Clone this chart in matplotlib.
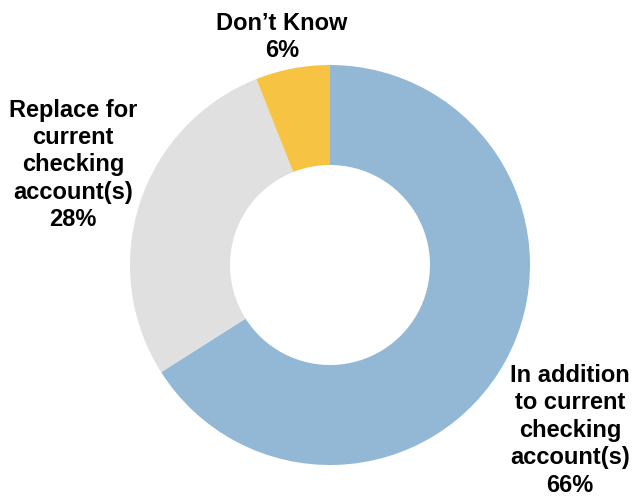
import matplotlib.pyplot as plt

labels = ["In addition\nto current\nchecking\naccount(s)\n66%",
          "Replace for\ncurrent\nchecking\naccount(s)\n28%",
          "Don\u2019t Know\n6%"]
shares = [66, 28, 6]
colors = ["#92B8D6", "#E0E0E0", "#F6C342"]

plt.rcParams['font.family'] = ['Liberation Sans', 'DejaVu Sans']

fig = plt.figure(figsize=(6.32, 4.98), dpi=100)
ax = fig.add_axes([130/632, 33/498, 400/632, 400/498])

ax.pie(shares, colors=colors, startangle=90, counterclock=False,
       radius=1, wedgeprops=dict(width=0.5, edgecolor='none'))

# label positions (data coords, radius = 1)
pos = [(1.2, -0.825), (-1.285, 0.5), (-0.24, 1.14)]
for (x, y), lab in zip(pos, labels):
    ax.text(x, y, lab, ha='center', va='center', fontsize=17,
            fontweight='bold', linespacing=1.25, clip_on=False)

ax.set_xlim(-1, 1)
ax.set_ylim(-1, 1)
ax.set_aspect('equal')
ax.axis('off')

fig.savefig("out.png", dpi=100)
